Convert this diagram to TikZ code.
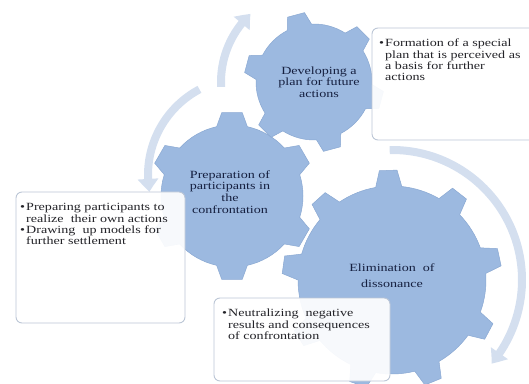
\documentclass[tikz,border=0pt]{standalone}
\usepackage{fontspec}
\newfontfamily\diagfont[FakeStretch=1.28]{Liberation Serif}
\usetikzlibrary{arrows.meta,bending}

\definecolor{gearblue}{RGB}{156,185,224}
\definecolor{gearedge}{RGB}{138,168,210}
\definecolor{arrowpale}{RGB}{212,223,239}
\definecolor{boxedge}{RGB}{188,198,214}
\definecolor{geartext}{RGB}{22,32,64}
\definecolor{boxtext}{RGB}{35,35,40}

\tikzset{
  gear/.style={fill=gearblue, draw=gearedge, line width=0.5pt, line join=round},
  cyclearrow/.style={draw=arrowpale, line width=8pt,
    -{Triangle[width=20pt,length=13pt,bend]}},
  notebox/.style={draw=boxedge, line width=0.9pt, fill=white, fill opacity=0.92,
    rounded corners=6pt},
  gearlabel/.style={font=\diagfont\fontsize{11}{11.5}\selectfont, text=geartext,
    align=center, inner sep=0pt},
  notetext/.style={font=\diagfont\fontsize{11}{11.3}\selectfont, text=boxtext,
    align=left, inner sep=0pt, anchor=north west},
}

% cogwheel: #1 centre, #2 teeth, #3 first tooth angle, #4 root radius,
% #5 tip radius, #6 root half-angle, #7 tip half-angle
\newcommand\cogwheel[7]{%
  \path[gear, shift={#1}] ({#3-#6}:#4)
    \foreach \k [evaluate=\k as \a using {#3+(\k-1)*360/#2}] in {1,...,#2}{
      -- ({\a-#7}:#5) -- ({\a+#7}:#5) -- ({\a+#6}:#4)
      arc[start angle={\a+#6}, end angle={\a+360/#2-#6}, radius=#4]
    } -- cycle;
}

\begin{document}
\begin{tikzpicture}[x=1pt,y=1pt]
\useasboundingbox (0,0) rectangle (529,383);
\clip (0,0) rectangle (529,383);

\coordinate (bigc) at (392,103);
\coordinate (midc) at (232,187);
\coordinate (smallc) at (314,301);
\coordinate (leftarc) at (245,208);

% circulation arrows
\draw[cyclearrow] (smallc) ++(183:93) arc[start angle=183, end angle=133, radius=93];
\draw[cyclearrow] (leftarc) ++(118:97) arc[start angle=118, end angle=190, radius=97];
\draw[cyclearrow] (bigc) ++(91:130) arc[start angle=91, end angle=-40, radius=130];

% gears
\cogwheel{(bigc)}{9}{12}{94}{110}{8}{4.6}
\cogwheel{(midc)}{6}{30}{71}{84}{12.5}{7}
\cogwheel{(smallc)}{6}{45}{58}{70}{12.5}{7.2}

\node[gearlabel] (plan) at (319,301) {Developing a\\plan for future\\actions};
\node[gearlabel, font=\diagfont\fontsize{11}{11.8}\selectfont] (prep) at (230,191)
  {Preparation of\\participants in\\the\\confrontation};
\node[gearlabel, font=\diagfont\fontsize{11}{15.7}\selectfont] (elim) at (392,107)
  {Elimination\ \ of\\dissonance};

% note boxes
\path[notebox] (372,243) rectangle (548,355);
\path[notebox] (16,60) rectangle (185,191);
\path[notebox] (214,2) rectangle (390,85);

\node[notetext] (plannote) at (379,344.4) {%
  \strut\makebox[6pt][l]{\textbullet}Formation of a special\\
  \hspace*{6pt}plan that is perceived as\\
  \hspace*{6pt}a basis for further\\
  \hspace*{6pt}actions};
\node[notetext] (prepnote) at (20,180.4) {%
  \strut\makebox[6pt][l]{\textbullet}Preparing participants to\\
  \hspace*{6pt}realize\ \ their own actions\\
  \makebox[6pt][l]{\textbullet}Drawing\ \ up models for\\
  \hspace*{6pt}further settlement};
\node[notetext] (elimnote) at (222,74.4) {%
  \strut\makebox[6pt][l]{\textbullet}Neutralizing\ \ negative\\
  \hspace*{6pt}results and consequences\\
  \hspace*{6pt}of confrontation};
\end{tikzpicture}
\end{document}
